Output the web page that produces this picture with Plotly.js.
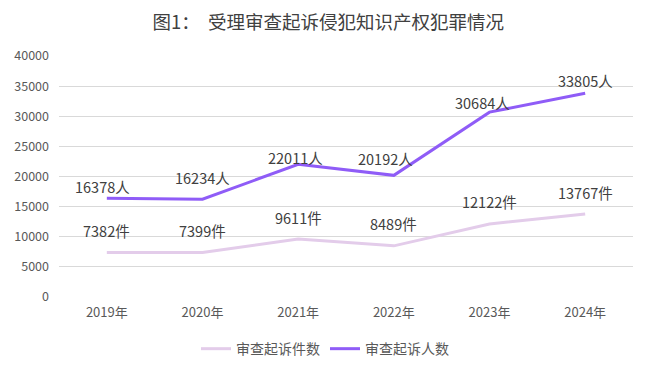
<!DOCTYPE html>
<html>
<head>
<meta charset="utf-8">
<script src="https://cdn.plot.ly/plotly-3.0.1.min.js"></script>
<style>html,body{margin:0;padding:0;background:#fff;}#chart{width:650px;height:369px;}</style>
</head>
<body>
<div id="chart"></div>
<script>
const years = ["2019年", "2020年", "2021年", "2022年", "2023年", "2024年"];
const cases = [7382, 7399, 9611, 8489, 12122, 13767];
const people = [16378, 16234, 22011, 20192, 30684, 33805];
const caseName = "审查起诉件数";
const peopleName = "审查起诉人数";
const caseUnit = "件";
const peopleUnit = "人";
const titleText = "图1：  受理审查起诉侵犯知识产权犯罪情况";

const peopleShift = [12, 22, 7, 17, 10, 13];
const peopleXShift = [-4, 0, -3, -8, -7, 0];

const FONT = '"Noto Sans CJK SC", "Noto Sans", sans-serif';

const traces = [
  {x: years, y: cases, name: caseName, type: "scatter", mode: "lines",
   line: {color: "#E3CCEA", width: 3}},
  {x: years, y: people, name: peopleName, type: "scatter", mode: "lines",
   line: {color: "#8F5CF7", width: 3}}
];

const annotations = [];
years.forEach((yr, i) => {
  annotations.push({x: yr, y: cases[i], text: cases[i] + caseUnit, showarrow: false,
    yshift: 22, font: {size: 14.5, color: "#404040", family: FONT}});
  annotations.push({x: yr, y: people[i], text: people[i] + peopleUnit, showarrow: false,
    yshift: peopleShift[i], xshift: peopleXShift[i], font: {size: 14.5, color: "#404040", family: FONT}});
});

const layout = {
  width: 650, height: 369,
  margin: {l: 59, r: 17, t: 56, b: 72},
  paper_bgcolor: "#fff", plot_bgcolor: "#fff",
  font: {family: FONT, color: "#595959", size: 12},
  title: {text: titleText, x: 0.505, xanchor: "center", y: 0.94, yanchor: "middle",
    font: {size: 18.5, color: "#404040", family: FONT}},
  xaxis: {type: "category", range: [-0.5, 5.5], showgrid: false, zeroline: false,
    showline: false, ticks: "", tickfont: {size: 13, color: "#595959"},
    ticklabelstandoff: 6, automargin: false},
  yaxis: {range: [0, 40000], dtick: 5000, tickformat: "d", showgrid: true, gridcolor: "#D9D9D9", gridwidth: 1,
    zeroline: false, showline: false, ticks: "", tickfont: {size: 12.5, color: "#595959"},
    ticklabelstandoff: 9, automargin: false},
  showlegend: true,
  legend: {orientation: "h", x: 0.5, xanchor: "center", xref: "container",
    y: 0.054, yanchor: "middle", yref: "container",
    font: {size: 14, color: "#595959"}, itemwidth: 30, tracegroupgap: 0},
  annotations: annotations
};

Plotly.newPlot("chart", traces, layout, {displayModeBar: false, staticPlot: true});
</script>
</body>
</html>
